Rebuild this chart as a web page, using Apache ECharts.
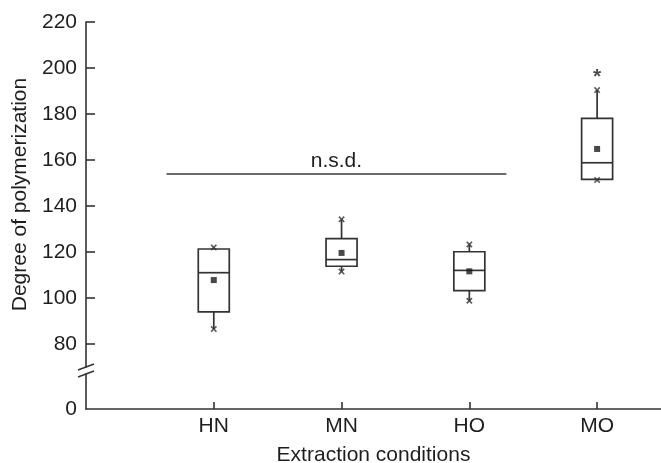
<!DOCTYPE html>
<html>
<head>
<meta charset="utf-8">
<title>Degree of polymerization</title>
<script src="https://cdn.jsdelivr.net/npm/echarts@6.0.0/dist/echarts.min.js"></script>
<style>
  html, body { margin: 0; padding: 0; background: #fff; }
  #main { width: 661px; height: 463px; }
</style>
</head>
<body>
<div id="main"></div>
<script>
// data
var groups = ['HN', 'MN', 'HO', 'MO']
var whiskerLow = [86.5, 111.5, 98.8, 151.3]
var boxLow = [94, 113.8, 103.2, 151.6]
var medians = [111, 116.7, 112, 158.8]
var boxHigh = [121.3, 125.8, 120.1, 178.1]
var whiskerHigh = [122, 134.2, 123.3, 190.4]
var means = [107.8, 119.6, 111.6, 164.8]
var outlierGroup = [4]
var outlierValue = [198.4]
var yTicks = [80, 100, 120, 140, 160, 180, 200, 220]
var nsdLevel = 154
var nsdFrom = 0.63
var nsdTo = 3.29

var font = 'Liberation Sans'
var fs = 21
var ink = '#1e1e1e'
var lineInk = '#333'

// box rows for the custom series: [x, low, q1, median, q3, high]
var boxRows = groups.map(function (g, i) {
	return [i + 1, whiskerLow[i], boxLow[i], medians[i], boxHigh[i], whiskerHigh[i]]
})
var endRows = []
groups.forEach(function (g, i) {
	endRows.push([i + 1, whiskerLow[i]])
	endRows.push([i + 1, whiskerHigh[i]])
})
var meanRows = groups.map(function (g, i) { return [i + 1, means[i]] })
var outlierRows = outlierGroup.map(function (x, i) { return [x, outlierValue[i]] })

// small x for the whisker ends
var crossPath = 'path://M0,0.18L0.18,0L0.5,0.32L0.82,0L1,0.18L0.68,0.5L1,0.82L0.82,1L0.5,0.68L0.18,1L0,0.82L0.32,0.5Z'

function renderBox(params, api) {
	var x = api.value(0)
	var lo = api.coord([x, api.value(1)])
	var q1 = api.coord([x, api.value(2)])
	var md = api.coord([x, api.value(3)])
	var q3 = api.coord([x, api.value(4)])
	var hi = api.coord([x, api.value(5)])
	var half = 15.5
	var st = { stroke: lineInk, lineWidth: 1.7, fill: null }
	return {
		type: 'group',
		children: [
			{ type: 'line', shape: { x1: lo[0], y1: lo[1], x2: q1[0], y2: q1[1] }, style: st },
			{ type: 'line', shape: { x1: q3[0], y1: q3[1], x2: hi[0], y2: hi[1] }, style: st },
			{ type: 'rect', shape: { x: q3[0] - half, y: q3[1], width: half * 2, height: q1[1] - q3[1] }, style: st },
			{ type: 'line', shape: { x1: md[0] - half, y1: md[1], x2: md[0] + half, y2: md[1] }, style: st }
		]
	}
}

var axisLineStyle = { color: '#333', width: 1.6 }

var option = {
	animation: false,
	backgroundColor: '#fff',
	textStyle: { fontFamily: font },
	grid: [
		{ left: 86, right: 0, top: 22, height: 345, outerBoundsMode: 'none' },
		{ left: 86, right: 0, top: 374, height: 35, outerBoundsMode: 'none' }
	],
	xAxis: [
		{ gridIndex: 0, type: 'value', min: 0, max: 4.5, show: false, splitLine: { show: false } },
		{
			gridIndex: 1, type: 'value', min: 0, max: 4.5,
			name: 'Extraction conditions', nameLocation: 'middle', nameGap: 36,
			nameTextStyle: { fontSize: fs, color: ink, fontFamily: font },
			axisLine: { lineStyle: axisLineStyle },
			axisTick: { inside: true, length: 7, customValues: [1, 2, 3, 4], lineStyle: axisLineStyle },
			axisLabel: {
				customValues: [1, 2, 3, 4], fontSize: fs, color: ink, margin: 7,
				formatter: function (v) { return groups[v - 1] || '' }
			},
			splitLine: { show: false }
		}
	],
	yAxis: [
		{
			gridIndex: 0, type: 'value', min: 70, max: 220,
			name: 'Degree of polymerization', nameLocation: 'middle', nameGap: 53,
			nameTextStyle: { fontSize: fs, color: ink, fontFamily: font },
			axisLine: { show: true, lineStyle: axisLineStyle },
			axisTick: { show: true, inside: true, length: 9, customValues: yTicks, lineStyle: axisLineStyle },
			axisLabel: { customValues: yTicks, fontSize: fs, color: ink, margin: 9 },
			splitLine: { show: false }
		},
		{
			gridIndex: 1, type: 'value', min: 0, max: 15,
			axisLine: { show: true, lineStyle: axisLineStyle },
			axisTick: { show: false },
			axisLabel: { customValues: [0], fontSize: fs, color: ink, margin: 9 },
			splitLine: { show: false }
		}
	],
	series: [
		{
			type: 'custom', xAxisIndex: 0, yAxisIndex: 0,
			renderItem: renderBox, data: boxRows, z: 2
		},
		{
			type: 'scatter', xAxisIndex: 0, yAxisIndex: 0,
			symbol: crossPath, symbolSize: 6.5,
			itemStyle: { color: '#333' }, data: endRows, z: 3
		},
		{
			type: 'scatter', xAxisIndex: 0, yAxisIndex: 0,
			symbol: 'rect', symbolSize: 6,
			itemStyle: { color: '#1a1a1a' }, data: meanRows, z: 4
		},
		{
			// outlier drawn as an asterisk
			type: 'scatter', xAxisIndex: 0, yAxisIndex: 0,
			symbolSize: 2, itemStyle: { color: 'transparent' },
			label: { show: true, formatter: '*', position: 'inside', fontSize: fs, fontWeight: 'bold', color: ink, offset: [0, 6] },
			data: outlierRows, z: 5
		},
		{
			// n.s.d. bar
			type: 'line', xAxisIndex: 0, yAxisIndex: 0,
			symbol: 'none', data: [],
			markLine: {
				silent: true, symbol: 'none',
				lineStyle: { color: '#3a3a3a', width: 1.6, type: 'solid' },
				label: { show: true, position: 'middle', formatter: 'n.s.d.', fontSize: fs, color: ink, distance: 2 },
				data: [[{ coord: [nsdFrom, nsdLevel] }, { coord: [nsdTo, nsdLevel] }]]
			}
		}
	]
}

var chart = echarts.init(document.getElementById('main'))
chart.setOption(option)

// break marks (//) where the two y axes meet
var p1 = chart.convertToPixel({ gridIndex: 0 }, [0, 70])
var p2 = chart.convertToPixel({ gridIndex: 1 }, [0, 15])
var markStyle = { stroke: '#333', lineWidth: 1.5 }
chart.setOption({
	graphic: [
		{ type: 'line', shape: { x1: p1[0] - 8, y1: p1[1] + 3, x2: p1[0] + 8, y2: p1[1] - 3 }, style: markStyle },
		{ type: 'line', shape: { x1: p2[0] - 8, y1: p2[1] + 3, x2: p2[0] + 8, y2: p2[1] - 3 }, style: markStyle }
	]
})
</script>
</body>
</html>
